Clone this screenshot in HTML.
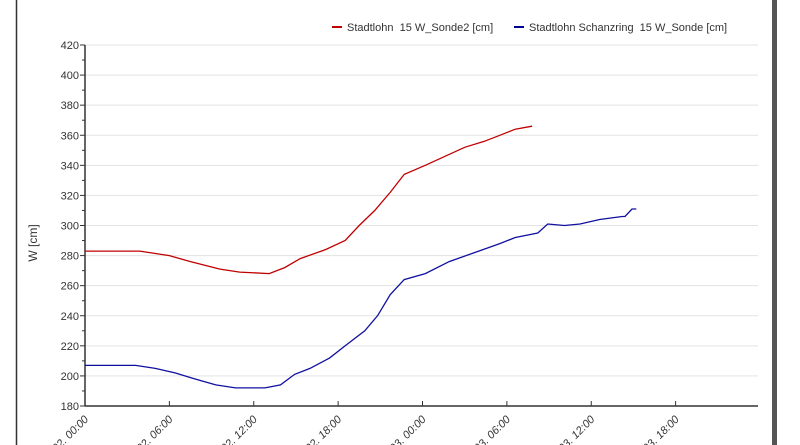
<!DOCTYPE html>
<html><head><meta charset="utf-8"><style>
body{margin:0;background:#fff;}
svg{display:block;font-family:"Liberation Sans",sans-serif;}
</style></head><body>
<svg id="chart" width="800" height="445">
<rect x="0" y="0" width="800" height="445" fill="#fff"/>
<line x1="16.5" y1="0" x2="16.5" y2="445" stroke="#333" stroke-width="1.5"/>
<rect x="772" y="0" width="5" height="445" fill="#555"/>
<g id="grid"></g><g id="axes"></g><g id="series"></g>
<text x="0" y="0" transform="translate(37,243) rotate(-90)" text-anchor="middle" font-size="12" fill="#333">W [cm]</text>
<g>
<g><line x1="332" y1="27" x2="342" y2="27" stroke="#c00000" stroke-width="2"/><text x="347" y="31" font-size="11" fill="#333" xml:space="preserve">Stadtlohn  15 W_Sonde2 [cm]</text></g>
<g><line x1="514" y1="27" x2="524" y2="27" stroke="#000090" stroke-width="2"/><text x="529" y="31" font-size="11" fill="#333" xml:space="preserve">Stadtlohn Schanzring  15 W_Sonde [cm]</text></g>
</g>
</svg>
<script>
const yTicks=[180,200,220,240,260,280,300,320,340,360,380,400,420];
const xTickHours=[0,6,12,18,24,30,36,42];
const xTickLabels=["02. 00:00","02. 06:00","02. 12:00","02. 18:00","03. 00:00","03. 06:00","03. 12:00","03. 18:00"];
const redT=[0,3.9,6.0,7.5,9.6,11.0,13.1,14.2,15.3,17.1,18.5,19.5,20.6,21.7,22.7,24.2,25.6,27.0,28.4,29.5,30.6,31.8];
const redV=[283,283,280,276,271,269,268,272,278,284,290,300,310,322,334,340,346,352,356,360,364,366];
const blueT=[0,3.6,5.0,6.4,7.8,9.3,10.7,12.8,13.9,14.9,16.0,17.4,18.5,19.9,20.8,21.7,22.7,24.2,25.9,27.7,29.5,30.6,32.2,32.9,34.1,35.2,36.6,38.2,38.4,38.9,39.2];
const blueV=[207,207,205,202,198,194,192,192,194,201,205,212,220,230,240,254,264,268,276,282,288,292,295,301,300,301,304,306,306,311,311];
const X0=85,X1=760,Y0=406,Y1=45;
const xs=h=>X0+(X1-X0)*h/48;
const ys=v=>Y0-(Y0-Y1)*(v-180)/240;
const NS="http://www.w3.org/2000/svg";
function mk(t,a,p){const e=document.createElementNS(NS,t);for(const k in a)e.setAttribute(k,a[k]);p.appendChild(e);return e;}
const grid=document.getElementById('grid'),axes=document.getElementById('axes'),ser=document.getElementById('series');
yTicks.forEach(v=>{
 const y=ys(v);
 if(v>180){const g=mk('line',{x1:X0,x2:758,y1:y,y2:y,stroke:'#e3e3e3','stroke-width':1},grid);
 
 }
 mk('line',{x1:X0-5,x2:X0,y1:y,y2:y,stroke:'#333'},axes);
 if(v<420)mk('line',{x1:X0-3,x2:X0,y1:ys(v+10),y2:ys(v+10),stroke:'#333'},axes);
 const t=mk('text',{x:X0-6,y:y+4,'text-anchor':'end','font-size':11,fill:'#333'},axes);
 t.textContent=v;
 
 
});
const ya=mk('line',{x1:X0,x2:X0,y1:Y1,y2:Y0,stroke:'#333','stroke-width':1.5},axes);


const xa=mk('line',{x1:X0,x2:758,y1:Y0,y2:Y0,stroke:'#333','stroke-width':1.5},axes);


xTickHours.forEach((h,i)=>{
 const x=xs(h);
 mk('line',{x1:x,x2:x,y1:Y0,y2:Y0-5,stroke:'#333'},axes);
 const t=mk('text',{x:0,y:0,'text-anchor':'end','font-size':11,'font-style':'italic',fill:'#333',transform:`translate(${x+4},${Y0+14}) rotate(-45)`},axes);
 t.textContent=xTickLabels[i];
 
 
});
function line(T,V,c,n){
 const d=T.map((t,i)=>(i?'L':'M')+xs(t).toFixed(1)+','+ys(V[i]).toFixed(1)).join('');
 const p=mk('path',{d:d,fill:'none',stroke:c,'stroke-width':1.3},ser);
 
 
}
line(redT,redV,'#c00000','series-sonde2');
line(blueT,blueV,'#1010a0','series-schanzring');
</script>
</body></html>
